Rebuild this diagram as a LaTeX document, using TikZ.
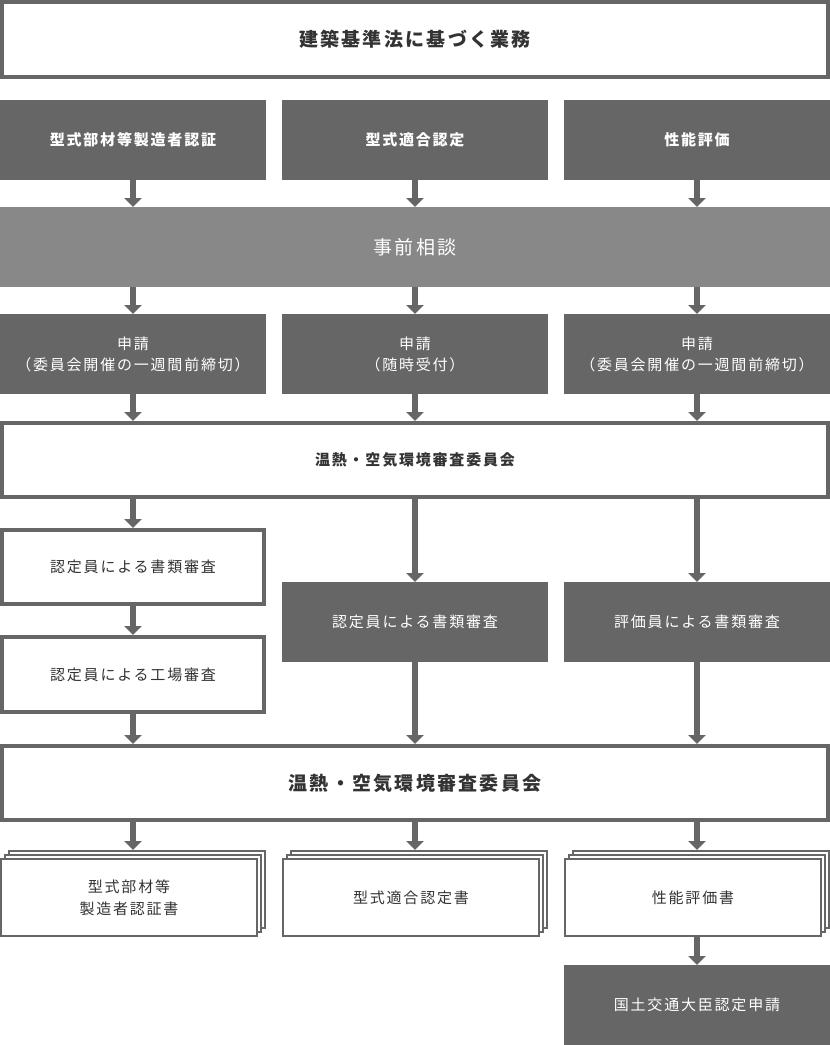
\documentclass[tikz,border=0pt]{standalone}
\usepackage{fontspec}
\setmainfont{Noto Sans CJK JP}[LetterSpace=12]
\usetikzlibrary{arrows.meta,shadows}
\definecolor{boxgray}{HTML}{666666}
\definecolor{softgray}{HTML}{888888}
\definecolor{inkgray}{HTML}{333333}

\begin{document}
\begin{tikzpicture}[x=1pt,y=-1pt,
  darkbox/.style={fill=boxgray,text=white,minimum width=266pt,minimum height=80pt,inner sep=0pt,outer sep=0pt,align=center,font=\fontsize{15}{21}\selectfont},
  linebox/.style={draw=boxgray,line width=4pt,fill=white,text=inkgray,minimum width=826pt,minimum height=74pt,inner sep=0pt,align=center},
  docbox/.style={draw=boxgray,line width=2pt,fill=white,text=inkgray,minimum width=256pt,minimum height=77pt,inner sep=0pt,align=center,font=\fontsize{15}{22}\selectfont,
    double copy shadow={shadow xshift=4pt,shadow yshift=4pt}},
  arr/.style={draw=boxgray,line width=6pt,-{Triangle[width=17pt,length=9pt]}}]
\useasboundingbox (0,0) rectangle (830,1045);

% Header
\node (gyomu) at (415,39.5) [linebox,minimum height=75pt,font=\fontsize{19}{19}\selectfont\bfseries] {建築基準法に基づく業務};

% Services
\node (buzai) at (133,140) [darkbox,font=\fontsize{15}{21}\selectfont\bfseries] {型式部材等製造者認証};
\node (tekigo) at (415,140) [darkbox,font=\fontsize{15}{21}\selectfont\bfseries] {型式適合認定};
\node (seino) at (697,140) [darkbox,font=\fontsize{15}{21}\selectfont\bfseries] {性能評価};

% Consultation
\node (soudan) at (415,247) [darkbox,fill=softgray,minimum width=830pt,font=\fontsize{19}{19}\selectfont] {事前相談};
\draw[arr] (buzai.south) -- (buzai.south |- soudan.north);
\draw[arr] (tekigo.south) -- (tekigo.south |- soudan.north);
\draw[arr] (seino.south) -- (seino.south |- soudan.north);

% Applications
\node (shinseiA) at (133,354) [darkbox] {申請\\（委員会開催の一週間前締切）};
\node (shinseiB) at (415,354) [darkbox] {申請\\（随時受付）};
\node (shinseiC) at (697,354) [darkbox] {申請\\（委員会開催の一週間前締切）};
\draw[arr] (shinseiA |- soudan.south) -- (shinseiA.north);
\draw[arr] (shinseiB |- soudan.south) -- (shinseiB.north);
\draw[arr] (shinseiC |- soudan.south) -- (shinseiC.north);

% First committee
\node (iinkaiA) at (415,460) [linebox,font=\fontsize{15}{15}\selectfont\bfseries] {温熱・空気環境審査委員会};
\draw[arr] (shinseiA.south) -- (shinseiA.south |- iinkaiA.north);
\draw[arr] (shinseiB.south) -- (shinseiB.south |- iinkaiA.north);
\draw[arr] (shinseiC.south) -- (shinseiC.south |- iinkaiA.north);

% Reviews
\node (shoruiA) at (133,567) [linebox,minimum width=262pt,font=\fontsize{15}{15}\selectfont] {認定員による書類審査};
\node (kojo) at (133,674.5) [linebox,minimum width=262pt,minimum height=75pt,font=\fontsize{15}{15}\selectfont] {認定員による工場審査};
\node (shoruiB) at (415,622) [darkbox] {認定員による書類審査};
\node (shoruiC) at (697,622) [darkbox] {評価員による書類審査};
\draw[arr] (shoruiA |- iinkaiA.south) -- (shoruiA.north);
\draw[arr] (shoruiA.south) -- (kojo.north);
\draw[arr] (shoruiB |- iinkaiA.south) -- (shoruiB.north);
\draw[arr] (shoruiC |- iinkaiA.south) -- (shoruiC.north);

% Second committee
\node (iinkaiB) at (415,783) [linebox,font=\fontsize{19}{19}\selectfont\bfseries] {温熱・空気環境審査委員会};
\draw[arr] (kojo.south) -- (kojo.south |- iinkaiB.north);
\draw[arr] (shoruiB.south) -- (shoruiB.south |- iinkaiB.north);
\draw[arr] (shoruiC.south) -- (shoruiC.south |- iinkaiB.north);

% Certificates
\node (shoA) at (129,897.5) [docbox] {型式部材等\\製造者認証書};
\node (shoB) at (411,897.5) [docbox] {型式適合認定書};
\node (shoC) at (693,897.5) [docbox] {性能評価書};
\draw[arr] (shinseiA |- iinkaiB.south) -- ([yshift=8pt]shinseiA |- shoA.north);
\draw[arr] (shinseiB |- iinkaiB.south) -- ([yshift=8pt]shinseiB |- shoB.north);
\draw[arr] (shinseiC |- iinkaiB.south) -- ([yshift=8pt]shinseiC |- shoC.north);

% Minister
\node (daijin) at (697,1005) [darkbox] {国土交通大臣認定申請};
\draw[arr] (shinseiC |- shoC.south) -- (daijin.north);

\end{tikzpicture}
\end{document}
